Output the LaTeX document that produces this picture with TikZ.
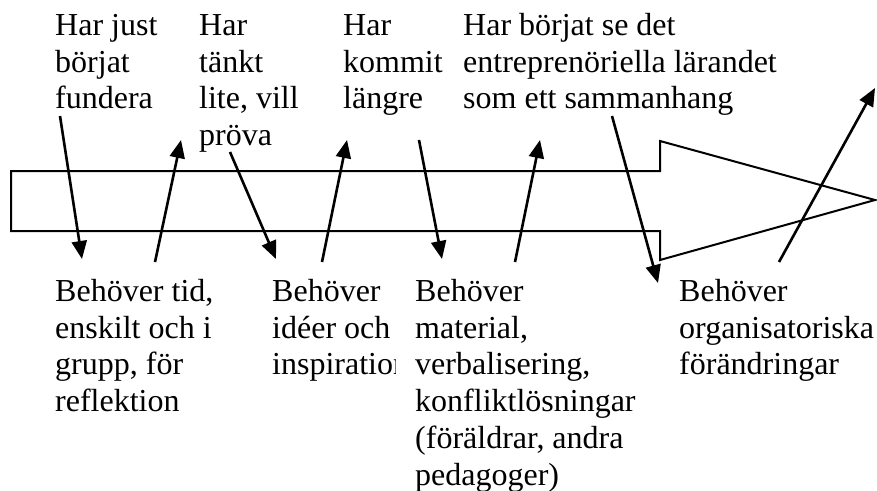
\documentclass[tikz,border=0pt]{standalone}
\usepackage{fontspec}
\setmainfont{Liberation Serif}
\usetikzlibrary{arrows.meta}
\begin{document}
\begin{tikzpicture}[x=1pt,y=-1pt,
  lbl/.style={anchor=north west, inner sep=0pt, align=left, font=\fontsize{32}{36.8}\selectfont},
  conn/.style={line width=2.6pt, -{Triangle[length=18pt,width=15pt]}},
  bigarrow/.style={line width=2pt, line join=miter}]
\useasboundingbox (0,0) rectangle (877,490);
% big arrow
\draw[bigarrow] (11,171) -- (660,171) -- (660,141) -- (875,200) -- (660,260) -- (660,231) -- (11,231) -- cycle;
% top labels
\node[lbl] (t1) at (55,11) {\rule{0pt}{24pt}Har just\\börjat\\fundera};
\node[lbl] (t2) at (199,11) {\rule{0pt}{24pt}Har\\tänkt\\lite, vill\\pröva};
\node[lbl] (t3) at (343,11) {\rule{0pt}{24pt}Har\\kommit\\längre};
\node[lbl] (t4) at (463,11) {\rule{0pt}{24pt}Har börjat se det\\entreprenöriella lärandet\\som ett sammanhang};
% bottom labels
\node[lbl] (b1) at (55,277) {\rule{0pt}{24pt}Behöver tid,\\enskilt och i\\grupp, för\\reflektion};
\begin{scope}
\clip (0,240) rectangle (395,490);
\node[lbl] (b2) at (272,277) {\rule{0pt}{24pt}Behöver\\idéer och\\inspiration};
\end{scope}
\node[lbl] (b3) at (415,277) {\rule{0pt}{24pt}Behöver\\material,\\verbalisering,\\konfliktlösningar\\(föräldrar, andra\\pedagoger)};
\node[lbl] (b4) at (679,277) {\rule{0pt}{24pt}Behöver\\organisatoriska\\förändringar};
% connector end points
\coordinate (a1s) at (60,116);  \coordinate (a1e) at (82,259);
\coordinate (a2s) at (155,262); \coordinate (a2e) at (181,140);
\coordinate (a3s) at (230,152); \coordinate (a3e) at (276,259);
\coordinate (a4s) at (322,262); \coordinate (a4e) at (347,140);
\coordinate (a5s) at (419,140); \coordinate (a5e) at (442,259);
\coordinate (a6s) at (515,262); \coordinate (a6e) at (540,140);
\coordinate (a7s) at (612,116); \coordinate (a7e) at (658,283);
\coordinate (a8s) at (779,262); \coordinate (a8e) at (875,88);
\draw[conn] (a1s) -- (a1e);
\draw[conn] (a2s) -- (a2e);
\draw[conn] (a3s) -- (a3e);
\draw[conn] (a4s) -- (a4e);
\draw[conn] (a5s) -- (a5e);
\draw[conn] (a6s) -- (a6e);
\draw[conn] (a7s) -- (a7e);
\draw[conn] (a8s) -- (a8e);
\end{tikzpicture}
\end{document}
